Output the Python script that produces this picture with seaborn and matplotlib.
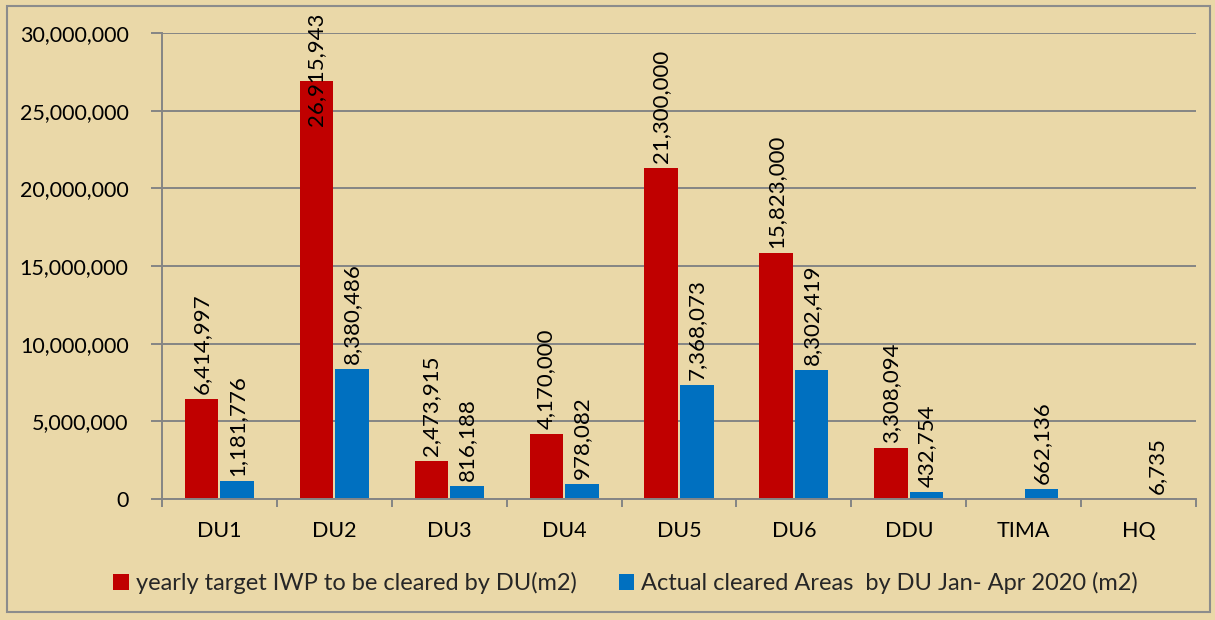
import numpy as np
import pandas as pd
import matplotlib
matplotlib.use("Agg")
import matplotlib.pyplot as plt
import seaborn as sns
from matplotlib.ticker import FuncFormatter
from matplotlib.patches import Rectangle

categories = ["DU1", "DU2", "DU3", "DU4", "DU5", "DU6", "DDU", "TIMA", "HQ"]
target_vals = [6414997, 26915943, 2473915, 4170000, 21300000, 15823000, 3308094, np.nan, np.nan]
actual_vals = [1181776, 8380486, 816188, 978082, 7368073, 8302419, 432754, 662136, 6735]
series_names = ["yearly target IWP to be cleared by DU(m2)",
                "Actual cleared Areas  by DU Jan- Apr 2020 (m2)"]
colors = ["#C00000", "#0070C0"]

df = pd.DataFrame({
    "cat": categories * 2,
    "val": target_vals + actual_vals,
    "series": [series_names[0]] * len(categories) + [series_names[1]] * len(categories),
})

sns.set_theme(style="white")
plt.rcParams["font.family"] = ["Lato", "DejaVu Sans"]
bg = "#EAD8A8"

fig = plt.figure(figsize=(12.15, 6.2), dpi=100, facecolor=bg)
ax = fig.add_axes([0.1333, 0.1952, 0.9844 - 0.1333, 0.9468 - 0.1952])
ax.set_facecolor(bg)

sns.barplot(data=df, x="cat", y="val", hue="series", hue_order=series_names,
            palette=colors, width=0.62, gap=0.06, ax=ax, saturation=1,
            errorbar=None, legend=True, linewidth=0)

ax.set_ylim(0, 30000000)
ax.set_xlim(-0.5, len(categories) - 0.5)
ax.set_yticks(np.arange(0, 30000001, 5000000))
ax.yaxis.set_major_formatter(FuncFormatter(lambda v, p: f"{int(v):,}"))
ax.grid(axis="y", color="#858585", linewidth=1.4)
ax.set_axisbelow(True)
for s in ["top", "right"]:
    ax.spines[s].set_visible(False)
for s in ["left", "bottom"]:
    ax.spines[s].set_color("#858585")
    ax.spines[s].set_linewidth(1.4)
ax.set_xlabel("")
ax.set_ylabel("")
ax.tick_params(axis="y", length=8, width=1.4, color="#858585", labelsize=15.5,
               pad=16, left=True, labelcolor="black")
ax.tick_params(axis="x", length=0, labelsize=15.5, pad=16, labelcolor="black")
ax.set_xticks(np.arange(-0.5, len(categories), 1), minor=True)
ax.tick_params(axis="x", which="minor", length=6, width=1.4, color="#858585", bottom=True)

# value labels
fig.canvas.draw()
renderer = fig.canvas.get_renderer()
fig_h = fig.bbox.height
for cont in ax.containers:
    for bar in cont:
        h = bar.get_height()
        if not np.isfinite(h) or h <= 0:
            continue
        xc = bar.get_x() + bar.get_width() / 2
        t = ax.annotate(f"{int(round(h)):,}", xy=(xc, h), xytext=(0, 5),
                        textcoords="offset pixels", rotation=90,
                        ha="center", va="bottom", fontsize=16, color="black",
                        annotation_clip=False)
        bb = t.get_window_extent(renderer)
        if bb.y1 > fig_h - 13:
            shift = bb.y1 - (fig_h - 13)
            t.xyann = (0, 5 - shift)

leg = ax.legend(loc="center", bbox_to_anchor=(0.51, 583 / 620),
                bbox_transform=fig.transFigure, ncol=2,
                frameon=False, fontsize=17, handlelength=0.65, handleheight=0.65,
                handletextpad=0.3, columnspacing=1.8)
leg.set_bbox_to_anchor((0.515, 1 - 583 / 620), transform=fig.transFigure)

fig.patches.append(Rectangle((7 / 1215, 8 / 620), 1203 / 1215, 606 / 620,
                             transform=fig.transFigure, fill=False,
                             edgecolor="#8C8C8C", linewidth=1.5))

fig.savefig("out.png", dpi=100, facecolor=bg)
